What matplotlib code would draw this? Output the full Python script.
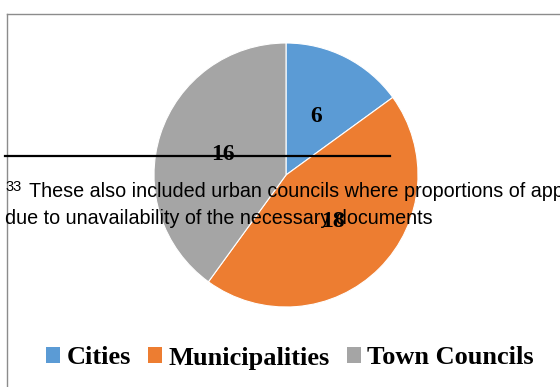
import matplotlib
matplotlib.use("Agg")
import matplotlib.pyplot as plt
from matplotlib.lines import Line2D
from matplotlib.patches import Patch

# data
categories = ["Cities", "Municipalities", "Town Councils"]
counts = [6, 18, 16]
colors = ["#5B9BD5", "#ED7D31", "#A5A5A5"]

footnote_mark = "33"
footnote_lines = [
    "These also included urban councils where proportions of app",
    "due to unavailability of the necessary documents",
]

W, H = 560, 387
fig = plt.figure(figsize=(W / 100, H / 100), dpi=100)


def fx(x):
    return x / W


def fy(y):
    return 1 - y / H


# chart frame (only the top and left edges are visible)
fig.add_artist(Line2D([fx(7), fx(7)], [fy(14), fy(H + 5)], color="#8c8c8c", lw=1.0))
fig.add_artist(Line2D([fx(7), fx(W + 5)], [fy(14), fy(14)], color="#8c8c8c", lw=1.0))

# pie, centre at (286, 175) px, radius 132 px
cx, cy, r = 286, 175, 132
ax = fig.add_axes([fx(cx - r), fy(cy + r), (2 * r) / W, (2 * r) / H])
wedges, texts = ax.pie(
    counts,
    colors=colors,
    startangle=90,
    counterclock=False,
    labels=[str(c) for c in counts],
    labeldistance=0.5,
    wedgeprops=dict(edgecolor="white", linewidth=0.8),
    textprops=dict(family="Liberation Serif", weight="bold", fontsize=17, color="black"),
)
for t in texts:
    t.set_ha("center")
    t.set_va("center")
ax.set_xlim(-1, 1)
ax.set_ylim(-1, 1)
ax.axis("off")

# legend
handles = [Patch(facecolor=c, edgecolor="none") for c in colors]
fig.legend(
    handles, categories,
    loc="center", bbox_to_anchor=(fx(290), fy(358)),
    ncol=3, frameon=False,
    prop=dict(family="Liberation Serif", weight="bold", size=19),
    handlelength=0.52, handleheight=0.52, handletextpad=0.25,
    columnspacing=0.65, borderpad=0, borderaxespad=0,
)

# footnote rule and text that sit over the chart
fig.add_artist(Line2D([fx(5), fx(390)], [fy(156), fy(156)], color="black", lw=1.6, zorder=5))

note_font = "Liberation Sans"
fig.text(fx(5), fy(180), footnote_mark, family=note_font, fontsize=10.5,
         va="top", ha="left", zorder=6)
fig.text(fx(29), fy(197), footnote_lines[0], family=note_font, fontsize=14.2,
         va="baseline", ha="left", zorder=6)
fig.text(fx(5), fy(223.5), footnote_lines[1], family=note_font, fontsize=14.2,
         va="baseline", ha="left", zorder=6)

fig.savefig("out.png", dpi=100)
